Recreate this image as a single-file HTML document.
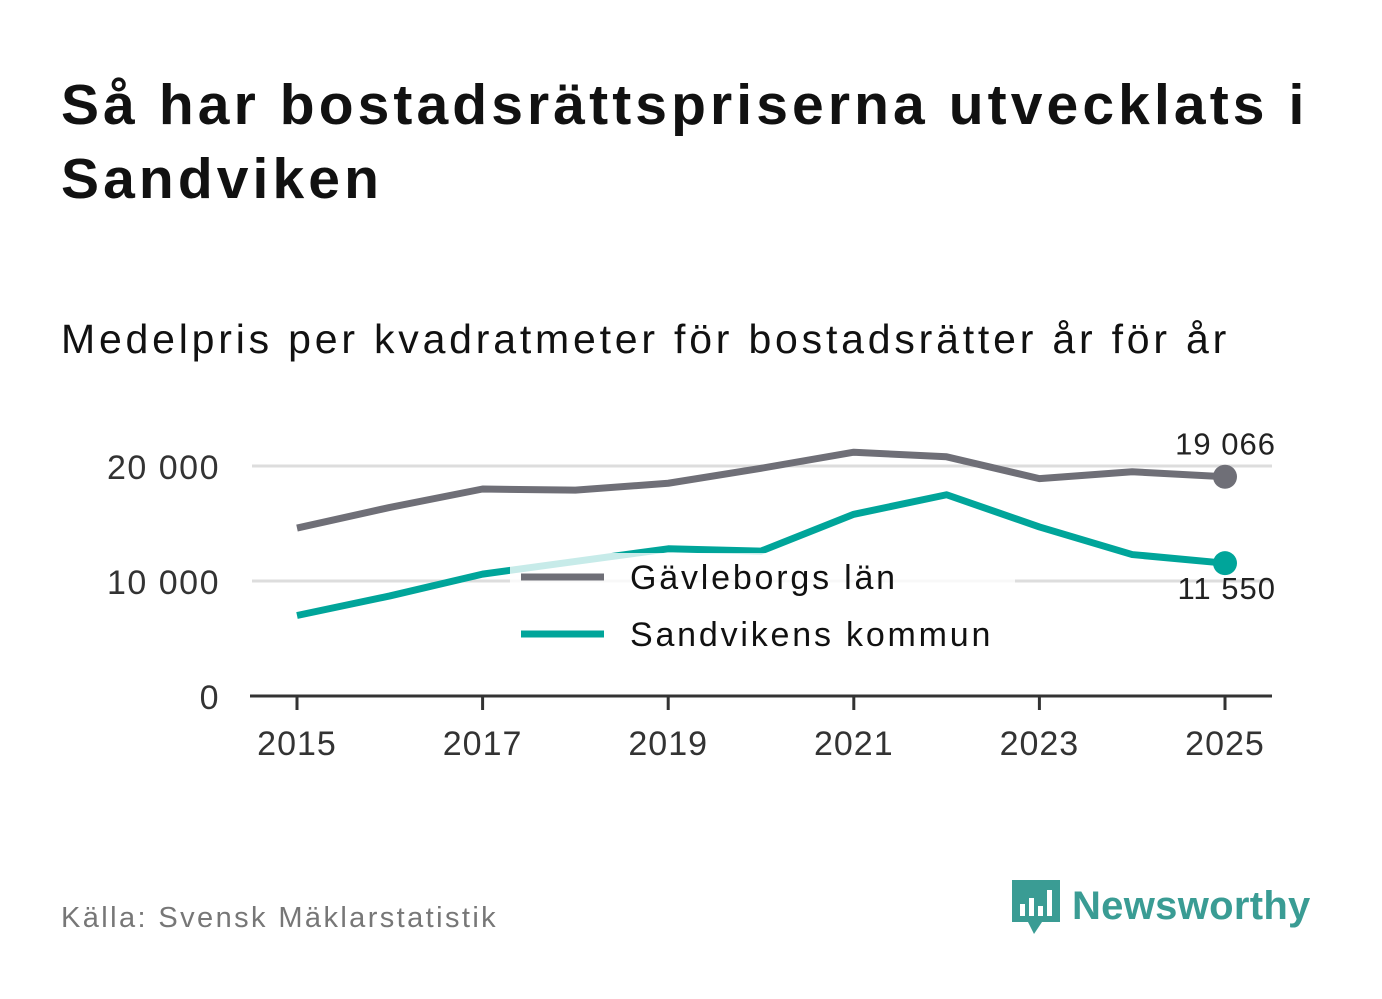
<!DOCTYPE html>
<html><head><meta charset="utf-8"><style>
body{margin:0;width:1382px;height:999px;background:#fff;font-family:"Liberation Sans",sans-serif;overflow:hidden;position:relative}
#title{position:absolute;left:61px;top:68px;font-size:57px;font-weight:bold;line-height:74px;color:#111;margin:0;letter-spacing:4.1px}
#sub{position:absolute;left:61px;top:316px;font-size:41px;color:#111;letter-spacing:3.8px}
#src{position:absolute;left:61px;top:902px;font-size:29px;color:#777;letter-spacing:2.4px}
#logo{position:absolute;left:1010px;top:876px;display:flex;align-items:center;gap:10px}
#logo span{font-size:40px;font-weight:bold;color:#3a9c94;letter-spacing:0.3px}
svg text{font-family:"Liberation Sans",sans-serif}
</style></head><body>
<h1 id="title">Så har bostadsrättspriserna utvecklats i Sandviken</h1>
<div id="sub">Medelpris per kvadratmeter för bostadsrätter år för år</div>
<svg id="chart" width="1382" height="999" style="position:absolute;left:0;top:0"></svg>
<div id="src">Källa: Svensk Mäklarstatistik</div>
<div id="logo">
<svg width="52" height="60"><path d="M2 4h48v42H32l-8 12-6-12H2z" fill="#3a9c94"/><rect x="10" y="28" width="5" height="12" fill="#fff"/><rect x="19" y="22" width="5" height="18" fill="#fff"/><rect x="28" y="30" width="5" height="10" fill="#fff"/><rect x="37" y="14" width="5" height="26" fill="#fff"/></svg>
<span>Newsworthy</span></div>
<script>
const years=[2015,2016,2017,2018,2019,2020,2021,2022,2023,2024,2025];
const gavle=[14600,16400,18000,17900,18500,19800,21200,20800,18900,19500,19066];
const sand=[7000,8700,10600,11700,12800,12600,15800,17500,14700,12300,11550];
const yTicks=[0,10000,20000];
const yLabels=["0","10 000","20 000"];
const xTicks=[2015,2017,2019,2021,2023,2025];
const endLabels=["19 066","11 550"];
const NS="http://www.w3.org/2000/svg";
const svg=document.getElementById('chart');
const x=v=>297+(v-2015)*92.8;
const y=v=>696-v*0.0115;
function mk(t,a){const e=document.createElementNS(NS,t);for(const k in a)e.setAttribute(k,a[k]);svg.appendChild(e);return e;}
yTicks.forEach((t,i)=>{
 if(t>0){const g=mk('line',{x1:252,x2:1272,y1:y(t),y2:y(t),stroke:'#ddd','stroke-width':3});
 
 }
 const l=mk('text',{x:220,y:y(t)+13,'text-anchor':'end','font-size':34,fill:'#333','letter-spacing':1.5});l.textContent=yLabels[i];
 
 
});
const ax=mk('line',{x1:250,x2:1272,y1:696,y2:696,stroke:'#333','stroke-width':3});


xTicks.forEach(t=>{
 const tk=mk('line',{x1:x(t),x2:x(t),y1:696,y2:710,stroke:'#333','stroke-width':3});
 
 
 const l=mk('text',{x:x(t),y:755,'text-anchor':'middle','font-size':34,fill:'#333','letter-spacing':1});l.textContent=t;
 
 
});
function line(vals,col,name,lab,dy){
 const p=mk('polyline',{points:vals.map((v,i)=>x(years[i])+','+y(v)).join(' '),fill:'none',stroke:col,'stroke-width':7,'stroke-linejoin':'round'});
 
 
 const n=vals.length-1;
 const c=mk('circle',{cx:x(years[n]),cy:y(vals[n]),r:12,fill:col});
 
 
 const t=mk('text',{x:1276,y:y(vals[n])+dy,'text-anchor':'end','font-size':31,fill:'#222','letter-spacing':1});t.textContent=lab;
 
 
}
line(gavle,'#6f6f77','gavleborg-line',endLabels[0],-22);
line(sand,'#00a59a','sandviken-line',endLabels[1],36);
const bg=mk('rect',{x:510,y:553,width:505,height:108,fill:'#fff','fill-opacity':0.78});


[['Gävleborgs län','#6f6f77',577],['Sandvikens kommun','#00a59a',634]].forEach(([n,c,yy])=>{
 const l=mk('line',{x1:521,x2:604,y1:yy,y2:yy,stroke:c,'stroke-width':7});
 
 
 const t=mk('text',{x:630,y:yy+12,'font-size':34,fill:'#111','letter-spacing':2.8});t.textContent=n;
 
 
});
</script>
</body></html>
